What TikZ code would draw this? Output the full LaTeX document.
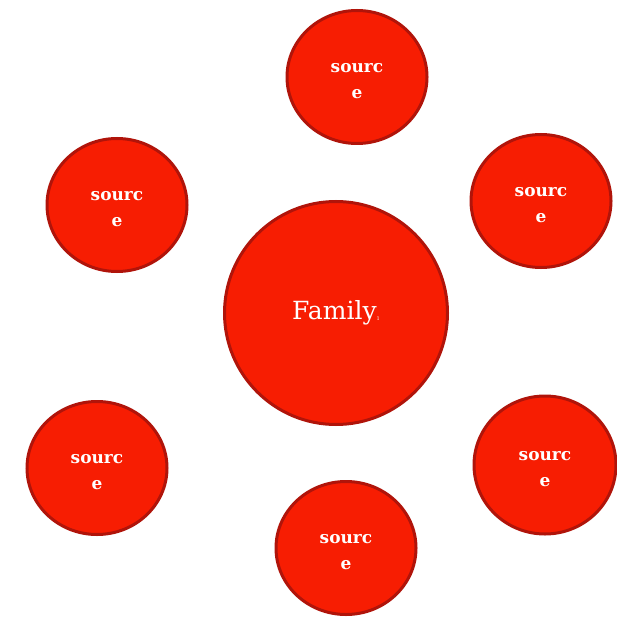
\documentclass[tikz,border=0pt]{standalone}
\usepackage{fontspec}
\setmainfont{DejaVu Serif}
\usetikzlibrary{shapes.geometric}
\definecolor{fillred}{HTML}{F71D02}
\definecolor{edgered}{HTML}{B0140A}
\newcommand{\srctext}{\begin{tabular}{@{}c@{}}\rule{0pt}{25pt}sourc\\e\end{tabular}}
\begin{document}
\begin{tikzpicture}[x=1pt,y=-1pt,
  bubble/.style={draw=edgered, fill=fillred, line width=3pt,
    text=white, align=center, inner sep=0pt},
  src/.style={bubble, ellipse, minimum width=140pt, minimum height=133pt,
    font=\fontsize{17}{26}\selectfont\bfseries}]
\useasboundingbox (0,0) rectangle (616,620);
\node[bubble, circle, minimum size=223pt, font=\fontsize{25}{30}\selectfont] (fam) at (336,313) {Family\raisebox{-1pt}{\fontsize{5}{5}\selectfont 1}};
\node[src] (s1) at (357,77) {\srctext};
\node[src] (s2) at (541,201) {\srctext};
\node[src] (s3) at (117,205) {\srctext};
\node[src] (s4) at (97,468) {\srctext};
\node[src, minimum width=142pt, minimum height=138pt] (s5) at (545,465) {\srctext};
\node[src] (s6) at (346,548) {\srctext};
\end{tikzpicture}
\end{document}
